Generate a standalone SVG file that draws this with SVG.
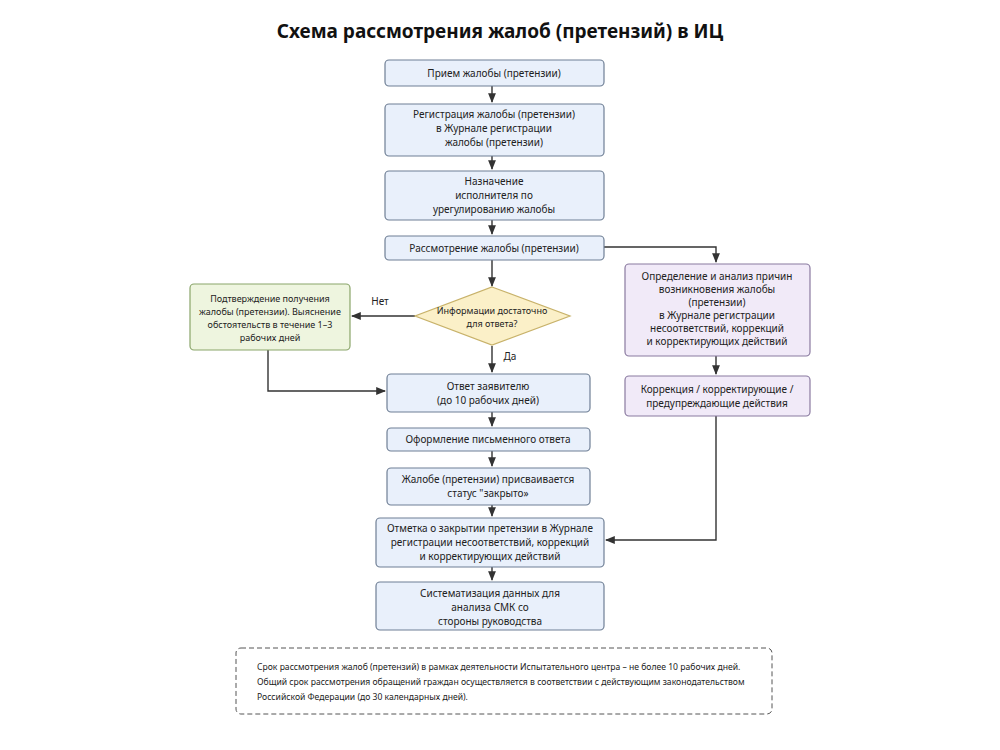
<svg xmlns="http://www.w3.org/2000/svg" width="1000" height="750" viewBox="0 0 1000 750">
<style>
text{font-family:"Noto Sans","Liberation Sans",sans-serif;font-size:10px;fill:#222;text-anchor:middle}
.s{font-size:9px}
.b rect{fill:#e9f0fb;stroke:#6f7f95;stroke-width:1.2}
.g rect{fill:#eef5df;stroke:#8aa56a;stroke-width:1.2}
.p rect{fill:#f1eaf8;stroke:#8a7aa0;stroke-width:1.2}
.c path{fill:none;stroke:#333;stroke-width:1.4;marker-end:url(#a)}
</style>
<defs><marker id="a" viewBox="0 0 10 10" refX="9" refY="5" markerWidth="7" markerHeight="7" orient="auto"><path d="M0,1L10,5L0,9z" fill="#333"/></marker></defs>
<rect width="1000" height="750" fill="#fff"/>
<text x="500" y="38" style="font-size:19px;font-weight:bold;fill:#111">Схема рассмотрения жалоб (претензий) в ИЦ</text>
<g class="c">
<path d="M492,86V102"/><path d="M492,156V169"/><path d="M492,220V234"/><path d="M492,260V286"/>
<path d="M492,346V372"/><path d="M492,412V426"/><path d="M492,451V466"/><path d="M492,505V516"/><path d="M492,567V580"/>
<path d="M604,247H716V262"/><path d="M716,356V374"/><path d="M716,416V540H606"/>
<path d="M415,316H352"/><path d="M268,350V391H385"/>
</g>
<text x="380" y="305">Нет</text><text x="510" y="360">Да</text>
<g id="n1" class="b"><rect x="385" y="60" width="219" height="26" rx="4"/><text x="494" y="77">Прием жалобы (претензии)</text></g>
<g id="n2" class="b"><rect x="385" y="104" width="219" height="52" rx="4"/><text x="494" y="118">Регистрация жалобы (претензии)</text><text x="494" y="132">в Журнале регистрации</text><text x="494" y="146">жалобы (претензии)</text></g>
<g id="n3" class="b"><rect x="385" y="171" width="219" height="49" rx="4"/><text x="494" y="185">Назначение</text><text x="494" y="199">исполнителя по</text><text x="494" y="213">урегулированию жалобы</text></g>
<g id="n4" class="b"><rect x="385" y="236" width="219" height="24" rx="4"/><text x="494" y="252">Рассмотрение жалобы (претензии)</text></g>
<g id="d"><polygon points="492,287 570,316 492,345 415,316" fill="#fbf0c8" stroke="#c8b26a" stroke-width="1.2"/><text class="s" x="492" y="314">Информации достаточно</text><text class="s" x="492" y="327">для ответа?</text></g>
<g id="g1" class="g"><rect x="190" y="284" width="160" height="66" rx="4"/><text class="s" x="270" y="302">Подтверждение получения</text><text class="s" x="270" y="315">жалобы (претензии). Выяснение</text><text class="s" x="270" y="328">обстоятельств в течение 1–3</text><text class="s" x="270" y="341">рабочих дней</text></g>
<g id="p1" class="p"><rect x="625" y="264" width="185" height="92" rx="4"/><text x="717" y="280">Определение и анализ причин</text><text x="717" y="293">возникновения жалобы</text><text x="717" y="306">(претензии)</text><text x="717" y="319">в Журнале регистрации</text><text x="717" y="332">несоответствий, коррекций</text><text x="717" y="345">и корректирующих действий</text></g>
<g id="p2" class="p"><rect x="625" y="376" width="185" height="40" rx="4"/><text x="717" y="393">Коррекция / корректирующие /</text><text x="717" y="407">предупреждающие действия</text></g>
<g id="n5" class="b"><rect x="387" y="374" width="203" height="38" rx="4"/><text x="488" y="390">Ответ заявителю</text><text x="488" y="404">(до 10 рабочих дней)</text></g>
<g id="n6" class="b"><rect x="387" y="428" width="203" height="23" rx="4"/><text x="488" y="443">Оформление письменного ответа</text></g>
<g id="n7" class="b"><rect x="387" y="468" width="203" height="37" rx="4"/><text x="488" y="483">Жалобе (претензии) присваивается</text><text x="488" y="497">статус "закрыто»</text></g>
<g id="n8" class="b"><rect x="376" y="518" width="228" height="49" rx="4"/><text x="490" y="532">Отметка о закрытии претензии в Журнале</text><text x="490" y="546">регистрации несоответствий, коррекций</text><text x="490" y="560">и корректирующих действий</text></g>
<g id="n9" class="b"><rect x="376" y="582" width="228" height="48" rx="4"/><text x="490" y="597">Систематизация данных для</text><text x="490" y="611">анализа СМК со</text><text x="490" y="625">стороны руководства</text></g>
<g id="note"><rect x="236" y="648" width="536" height="66" rx="5" fill="none" stroke="#555" stroke-dasharray="5,3"/>
<text x="257" y="670" style="text-anchor:start;font-size:8.6px">Срок рассмотрения жалоб (претензий) в рамках деятельности Испытательного центра – не более 10 рабочих дней.</text>
<text x="257" y="685" style="text-anchor:start;font-size:8.6px">Общий срок рассмотрения обращений граждан осуществляется в соответствии с действующим законодательством</text>
<text x="257" y="700" style="text-anchor:start;font-size:8.6px">Российской Федерации (до 30 календарных дней).</text></g>
</svg>
